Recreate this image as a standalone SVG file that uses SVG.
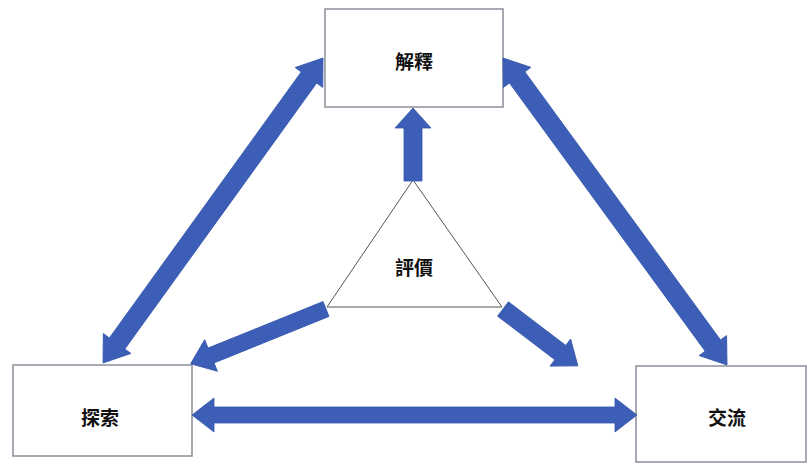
<svg xmlns="http://www.w3.org/2000/svg" width="809" height="466" viewBox="0 0 809 466">
<style>
.box{fill:#fff;stroke:#8a8f99;stroke-width:1.5}
.tri{fill:#fff;stroke:#555;stroke-width:1}
.lbl{font-family:"Noto Sans CJK TC","Noto Sans CJK JP",sans-serif;font-size:19px;font-weight:bold;fill:#111;text-anchor:middle;dominant-baseline:central}
.arr{fill:#3c5eb6;stroke:#3456ad;stroke-width:0.8;stroke-linejoin:miter}
</style>
<rect width="809" height="466" fill="#fff"/>
<g id="node-kaishaku"><rect class="box" x="325" y="9" width="178" height="98"/><text class="lbl" x="414" y="60">解釋</text></g>
<g id="node-tansaku"><rect class="box" x="13" y="365" width="179" height="91"/><text class="lbl" x="100" y="416">探索</text></g>
<g id="node-koryu"><rect class="box" x="636" y="366" width="170" height="96"/><text class="lbl" x="727" y="416">交流</text></g>
<g id="node-hyoka"><polygon class="tri" points="413,180 327,307 502,307"/><text class="lbl" x="414" y="266">評價</text></g>
<g id="connectors">
<polygon class="arr" transform="translate(323,58) rotate(125.8)" points="0,0 24,-17 24,-9.5 352,-9.5 352,-17 376,0 352,17 352,9.5 24,9.5 24,17"/>
<polygon class="arr" transform="translate(503,58) rotate(53.88)" points="0,0 24,-17 24,-9.5 356,-9.5 356,-17 380,0 356,17 356,9.5 24,9.5 24,17"/>
<polygon class="arr" transform="translate(192,415) rotate(0)" points="0,0 22,-17 22,-8 423,-8 423,-17 445,0 423,17 423,8 22,8 22,17"/>
<polygon class="arr" transform="translate(413,181) rotate(-90)" points="0,-9 53,-9 53,-18 73,0 53,18 53,9 0,9"/>
<polygon class="arr" transform="translate(326,309) rotate(157.98)" points="0,-8 124,-8 124,-17 146,0 124,17 124,8 0,8"/>
<polygon class="arr" transform="translate(503,309) rotate(37.23)" points="0,-9 72,-9 72,-17 94,0 72,17 72,9 0,9"/>
</g>
</svg>
